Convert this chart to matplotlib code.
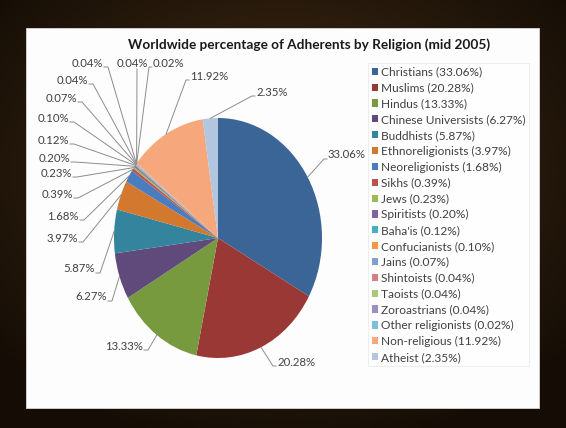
import numpy as np
import matplotlib
matplotlib.use("Agg")
import matplotlib.pyplot as plt
from matplotlib.patches import Rectangle, Patch

plt.rcParams['font.family'] = ['Lato', 'DejaVu Sans']

religions = ["Christians", "Muslims", "Hindus", "Chinese Universists", "Buddhists",
             "Ethnoreligionists", "Neoreligionists", "Sikhs", "Jews", "Spiritists",
             "Baha'is", "Confucianists", "Jains", "Shintoists", "Taoists",
             "Zoroastrians", "Other religionists", "Non-religious", "Atheist"]
shares = [33.06, 20.28, 13.33, 6.27, 5.87, 3.97, 1.68, 0.39, 0.23, 0.20,
          0.12, 0.10, 0.07, 0.04, 0.04, 0.04, 0.02, 11.92, 2.35]
colors = ['#3c6597', '#9a3836', '#789a3f', '#604a7c', '#33849c', '#d2782f',
          '#4a7cc0', '#c0504d', '#9bbb59', '#8064a2', '#4bacc6', '#f79646',
          '#7f9fd6', '#d57f80', '#a9c97a', '#9e8fc0', '#7ec0d8', '#f7a77c', '#b3c6e0']

# label text anchors in pixels (x, y from top, alignment)
label_pos = [(328, 155, 'left'), (277, 362, 'left'), (143, 346, 'right'),
             (107, 297, 'right'), (95, 269, 'right'), (78, 238, 'right'),
             (79, 216, 'right'), (73, 194, 'right'), (72, 173, 'right'),
             (70, 158, 'right'), (69, 140, 'right'), (69, 118, 'right'),
             (77, 98, 'right'), (88, 80, 'right'), (103, 63, 'right'),
             (132, 63, 'center'), (153, 63, 'left'), (190, 76, 'left'),
             (256, 92, 'left')]

W, H = 566, 428
fig = plt.figure(figsize=(W / 100, H / 100), dpi=100)

# dark slide background
bg = fig.add_axes([0, 0, 1, 1], zorder=0)
yy, xx = np.mgrid[0:H, 0:W]
r = np.sqrt(((xx - W * 0.5) / W) ** 2 + ((yy - H * 0.4) / H) ** 2)
shade = np.clip(1 - r * 1.5, 0, 1)
base = np.array([0.08, 0.05, 0.02])
top = np.array([0.27, 0.18, 0.09])
img = base + (top - base) * shade[..., None]
bg.imshow(img, extent=[0, W, H, 0], aspect='auto')
bg.set_xlim(0, W)
bg.set_ylim(H, 0)
bg.axis('off')
bg.add_patch(Rectangle((26, 28), 513, 380, facecolor='#fdfdfd', edgecolor='#d8d8d8', lw=0.6))

# pie (stretched like the screenshot)
cx, cy, rx, ry = 218, 238, 104, 120
ax = fig.add_axes([(cx - rx) / W, (H - cy - ry) / H, 2 * rx / W, 2 * ry / H], zorder=2)
wedges, _ = ax.pie(shares, colors=colors, startangle=90, counterclock=False,
                   radius=1, wedgeprops=dict(linewidth=0))
ax.set_xlim(-1, 1)
ax.set_ylim(-1, 1)
ax.set_aspect('auto')
ax.axis('off')

# overlay in pixel coords for labels and leader lines
ov = fig.add_axes([0, 0, 1, 1], zorder=3)
ov.set_xlim(0, W)
ov.set_ylim(H, 0)
ov.axis('off')
ov.patch.set_alpha(0)

fig.canvas.draw()
to_px = ov.transData.inverted()
for w, v, (lx, ly, ha) in zip(wedges, shares, label_pos):
    mid = np.deg2rad((w.theta1 + w.theta2) / 2)
    px, py = to_px.transform(ax.transData.transform((np.cos(mid), np.sin(mid))))
    ov.text(lx, ly, f"{v:.2f}%", ha=ha, va='center', fontsize=8.2, color='#404040')
    if ha == 'right':
        xs = [lx + 1, lx + 5, px]
        ys = [ly + 4, ly + 4, py]
    elif ha == 'left':
        xs = [lx - 1, lx - 4, px]
        ys = [ly + 4, ly + 4, py]
    else:
        xs = [lx + 5, px]
        ys = [ly + 6, py]
    ov.plot(xs, ys, color='#8c8c8c', lw=0.7)

ov.text(309, 45, "Worldwide percentage of Adherents by Religion (mid 2005)",
        ha='center', va='center', fontsize=9.8, fontweight='bold', color='#1a1a1a')

handles = [Patch(facecolor=c, edgecolor='none') for c in colors]
labels = [f"{n} ({v:.2f}%)" for n, v in zip(religions, shares)]
leg = fig.legend(handles, labels, loc='upper left',
                 bbox_to_anchor=(368 / W, (H - 63) / H), fontsize=8.6,
                 handlelength=0.55, handleheight=0.55, handletextpad=0.2,
                 labelspacing=0.405, borderpad=0.3, borderaxespad=0,
                 frameon=True, fancybox=False,
                 edgecolor='#e6e6e6', labelcolor='#404040')
leg.get_frame().set_linewidth(0.6)
leg.set_zorder(4)

fig.savefig("out.png", dpi=100)
